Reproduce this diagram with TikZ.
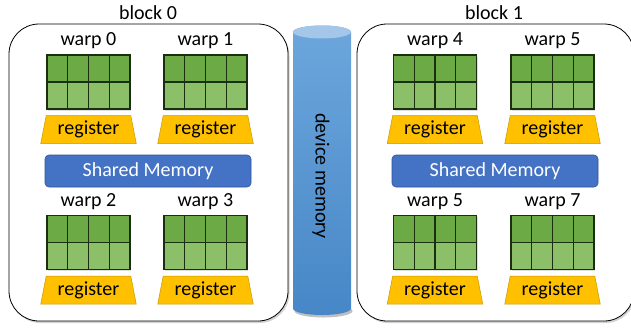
\documentclass[tikz,border=0pt]{standalone}
\usepackage{fontspec}
\setmainfont{Carlito}
\usetikzlibrary{shapes.geometric,shadows,calc}
\definecolor{cellTop}{HTML}{6BAA45}
\definecolor{cellBot}{HTML}{8CC068}
\definecolor{cellLine}{HTML}{1B2E10}
\definecolor{regFill}{HTML}{FFC000}
\definecolor{regLine}{HTML}{C99700}
\definecolor{smFill}{HTML}{4472C4}
\definecolor{smLine}{HTML}{2F5597}
\definecolor{cylTop}{HTML}{6CA6DC}
\definecolor{cylBot}{HTML}{4787C7}
\definecolor{cylCap}{HTML}{A4C6E8}
\tikzset{
  blockbox/.style={draw=black, line width=0.8pt, fill=white, rounded corners=30pt,
    minimum height=297pt, drop shadow={opacity=0.35, shadow xshift=1.5pt, shadow yshift=-2pt}},
  gridbox/.style={draw=cellLine, line width=1.3pt, minimum width=83pt, minimum height=54pt,
    inner sep=0pt, drop shadow={opacity=0.25, shadow xshift=1pt, shadow yshift=-1.5pt},
    path picture={
      \fill[cellTop] (path picture bounding box.north west) rectangle (path picture bounding box.east);
      \fill[cellBot] (path picture bounding box.west) rectangle (path picture bounding box.south east);
      \draw[cellLine, line width=1.3pt] (path picture bounding box.west) -- (path picture bounding box.east);
      \foreach \f in {0.25,0.5,0.75}{
        \draw[cellLine, line width=1.3pt]
          ($(path picture bounding box.north west)!\f!(path picture bounding box.north east)$) --
          ($(path picture bounding box.south west)!\f!(path picture bounding box.south east)$);
      }
    }},
  regbox/.style={trapezium, trapezium stretches=true, trapezium left angle=77,
    trapezium right angle=77, minimum width=96pt, minimum height=28pt, inner sep=0pt,
    fill=regFill, draw=regLine, line width=0.5pt},
  smbox/.style={fill=smFill, draw=smLine, line width=0.6pt, rounded corners=4pt,
    minimum width=206pt, minimum height=32pt, inner sep=0pt, text=white},
  lab/.style={inner sep=0pt, text=black}
}
\begin{document}
\begin{tikzpicture}[x=1pt, y=-1pt, font=\fontsize{20}{22}\selectfont]
\clip (0,0) rectangle (631,327);
\fill[white] (0,0) rectangle (631,327);

% blocks
\node[blockbox, minimum width=279pt] (blk0) at (148.5,172.5) {};
\node[blockbox, minimum width=277pt] (blk1) at (495.5,172.5) {};
\node[lab] (blk0lab) at (148,13) {block 0};
\node[lab] (blk1lab) at (494,13) {block 1};

% device memory cylinder
\fill[black, opacity=0.25] (323.5,311) ellipse [x radius=29pt, y radius=6.5pt];
\shade[top color=cylTop, bottom color=cylBot]
  (293,32) -- (293,308.5) arc[start angle=180, end angle=360, x radius=29pt, y radius=6.5pt]
  -- (351,32) arc[start angle=0, end angle=180, x radius=29pt, y radius=6.5pt] -- cycle;
\fill[cylCap] (322,32) ellipse [x radius=29pt, y radius=6.5pt];
\node[lab, rotate=-90] (dmem) at (321,176) {device memory};

% warps
\foreach \nm/\x/\y/\t in {w0/88.5/82/warp 0, w1/205.5/82/warp 1,
    w2/88.5/242.5/warp 2, w3/205.5/242.5/warp 3,
    w4/435/82/warp 4, w5/552.5/82/warp 5,
    w6/435/242.5/warp 5, w7/552.5/242.5/warp 7}{
  \node[gridbox] (\nm) at (\x,\y) {};
  \node[lab] (\nm lab) at ($(\nm.north)+(0,-13.5)$) {\t};
  \node[regbox] (\nm reg) at ($(\nm.south)+(0,20)$) {register};
}

% shared memory
\node[smbox] (sm0) at (148,171) {Shared Memory};
\node[smbox] (sm1) at (495,171) {Shared Memory};
\end{tikzpicture}
\end{document}
